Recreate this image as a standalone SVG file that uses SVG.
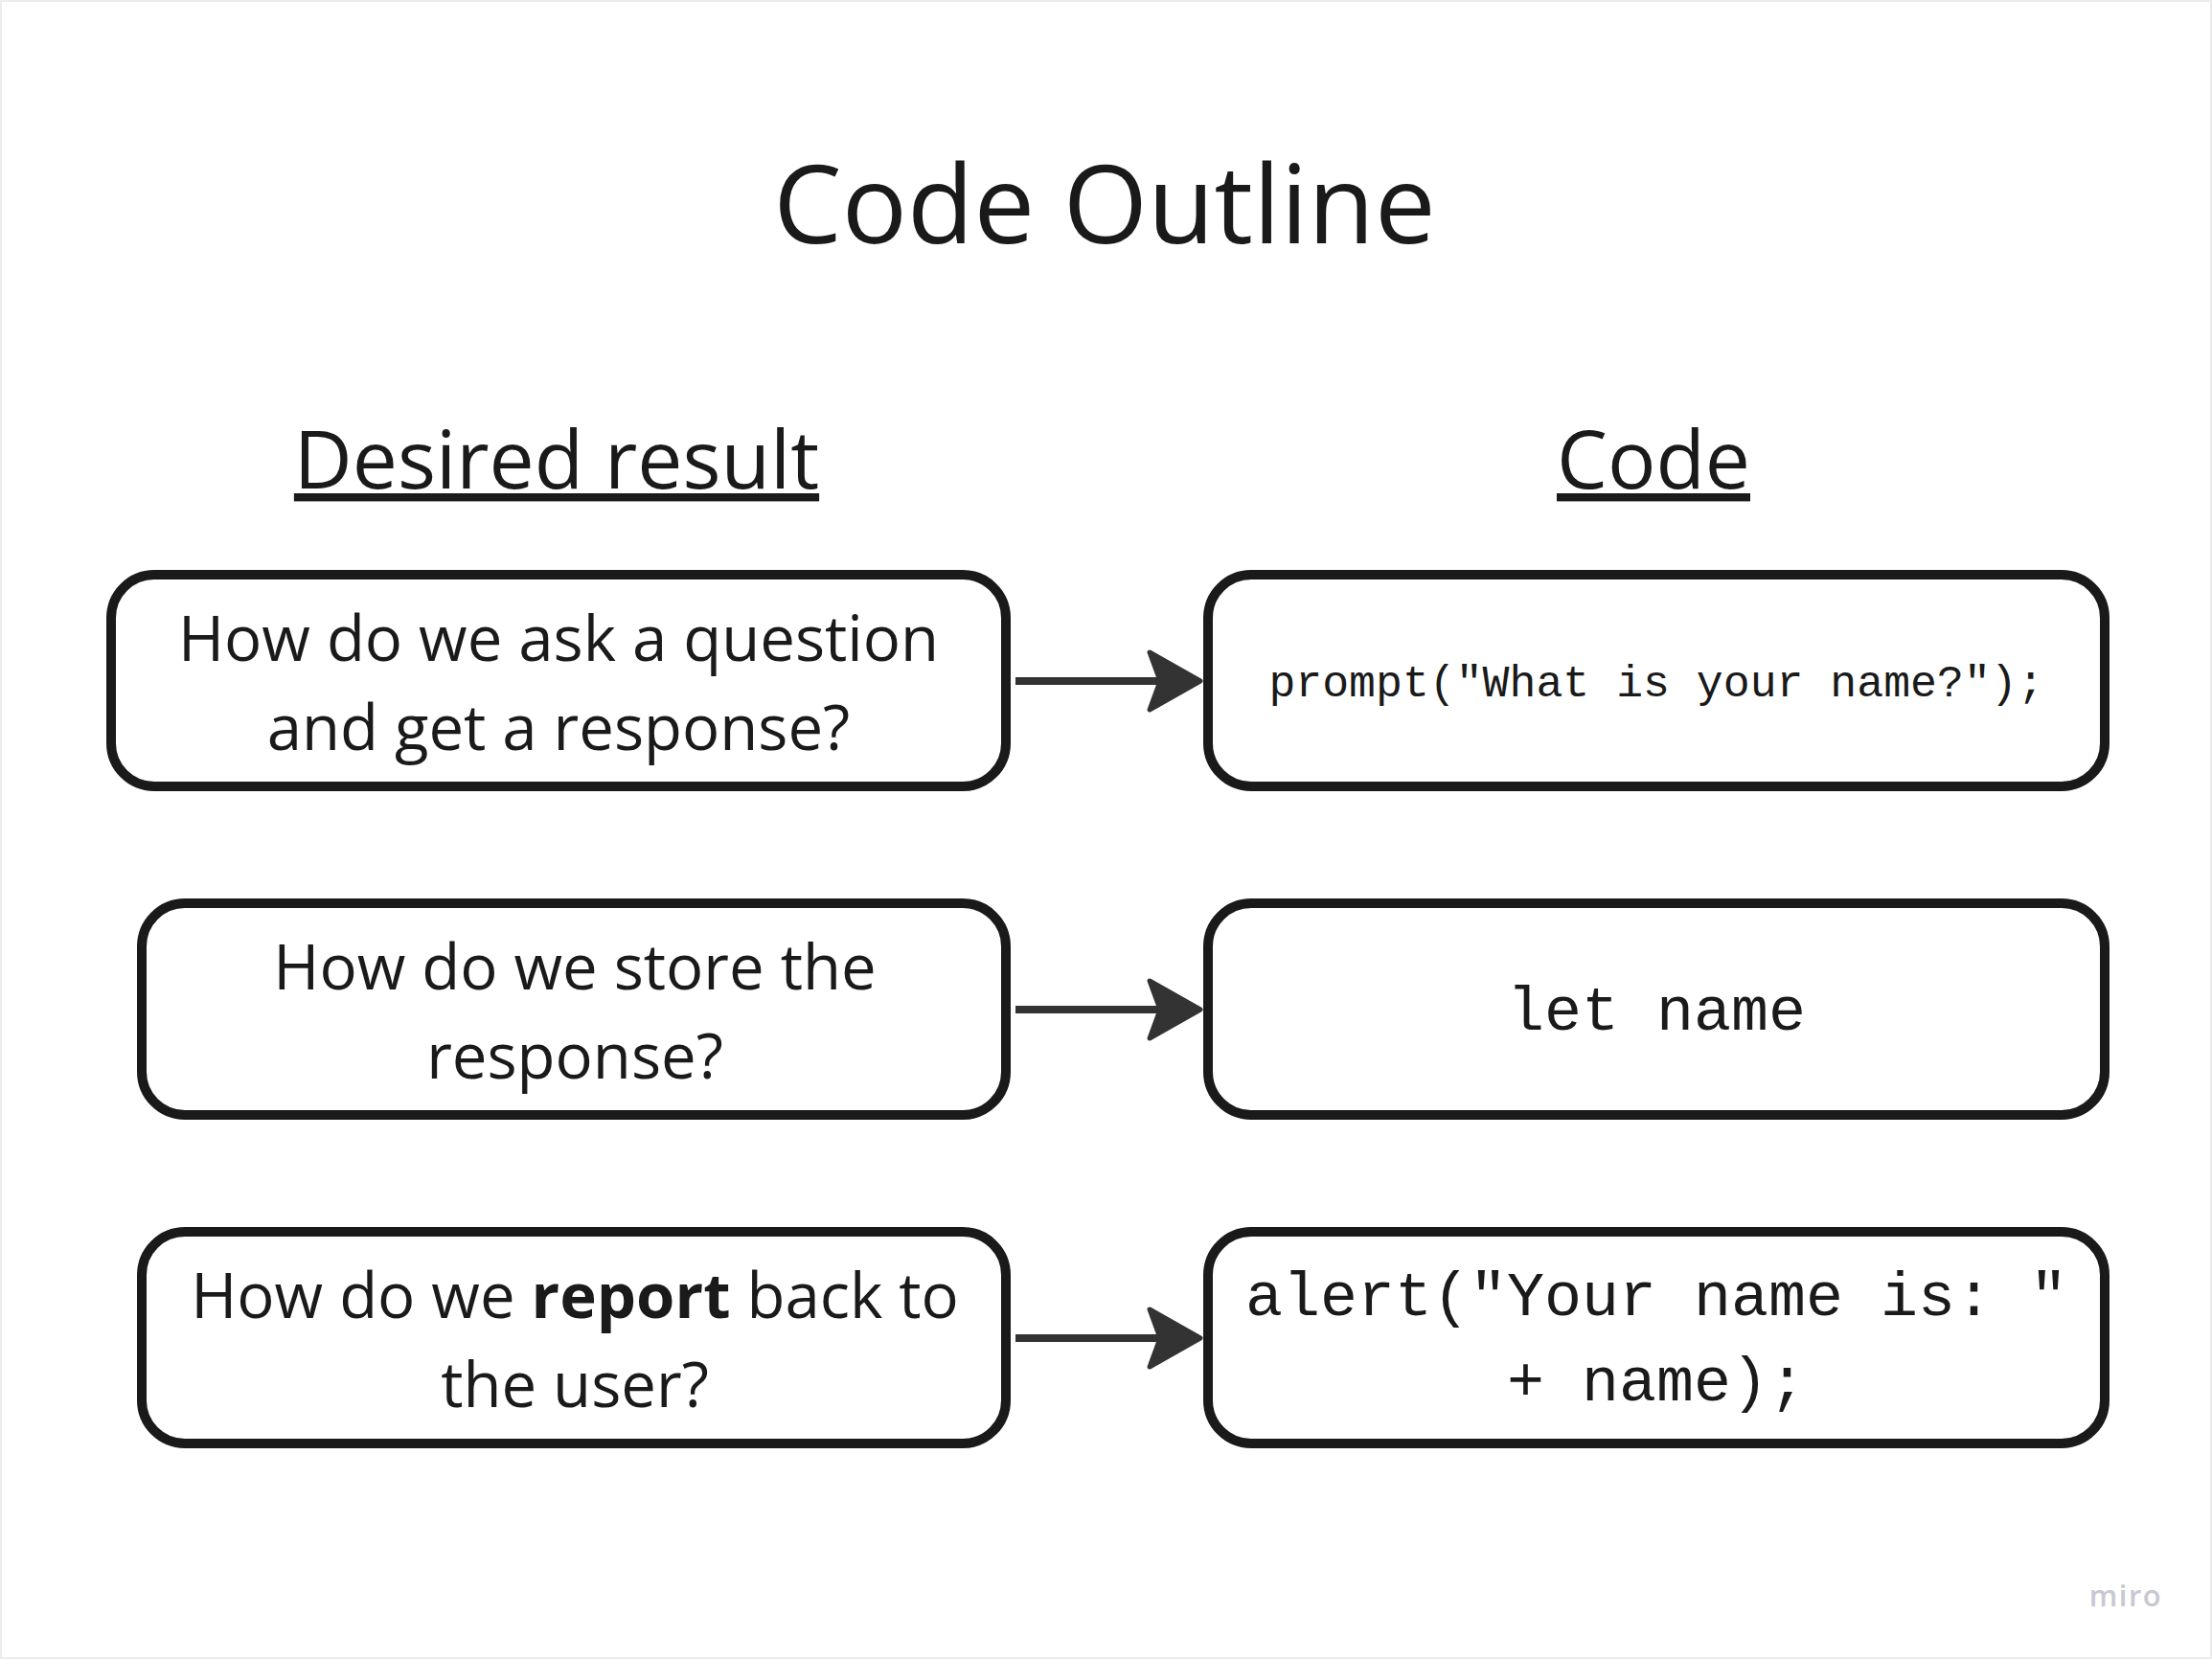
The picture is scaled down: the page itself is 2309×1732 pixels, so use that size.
<svg xmlns="http://www.w3.org/2000/svg" width="2309" height="1732" viewBox="0 0 2309 1732">
<style>
.bg{fill:#ffffff;stroke:#ececec;stroke-width:4}
.box{fill:#ffffff;stroke:#1a1a1a;stroke-width:10}
.t{font-family:"Open Sans","Noto Sans","Liberation Sans",sans-serif;fill:#1a1a1a;text-anchor:middle}
.q{font-size:65.3px}
.h{font-size:84px;text-decoration:underline}
.code{font-family:"Liberation Mono","DejaVu Sans Mono",monospace;fill:#1a1a1a;text-anchor:middle}
.conn{fill:none;stroke:#333333;stroke-width:8}
.head{fill:#333333;stroke:#333333;stroke-width:5;stroke-linejoin:round}
</style>
<defs>
<marker id="ah" markerUnits="userSpaceOnUse" markerWidth="80" markerHeight="80" refX="32" refY="33" orient="auto" overflow="visible">
<path class="head" d="M2,3 L55,33 L2,63 L13,33 Z"/>
</marker>
</defs>
<rect class="bg" x="0" y="0" width="2309" height="1732"/>
<g id="title">
<text class="t" x="1153" y="254" font-size="113.5">Code Outline</text>
</g>
<g id="header-desired">
<text class="t h" x="581" y="510">Desired result</text>
</g>
<g id="header-code">
<text class="t h" x="1726" y="510">Code</text>
</g>
<g id="q1">
<rect class="box" x="116" y="600" width="934" height="221" rx="45"/>
<text class="t q" x="583" y="690">How do we ask a question</text>
<text class="t q" x="583" y="783">and get a response?</text>
</g>
<g id="q2">
<rect class="box" x="148" y="943" width="902" height="221" rx="45"/>
<text class="t q" x="600" y="1033">How do we store the</text>
<text class="t q" x="600" y="1126">response?</text>
</g>
<g id="q3">
<rect class="box" x="148" y="1286" width="902" height="221" rx="45"/>
<text class="t q" x="600" y="1376">How do we <tspan font-weight="bold">report</tspan> back to</text>
<text class="t q" x="600" y="1469">the user?</text>
</g>
<g id="c1">
<rect class="box" x="1261" y="600" width="936" height="221" rx="45"/>
<text class="code" x="1729" y="727" font-size="46.5">prompt("What is your name?");</text>
</g>
<g id="c2">
<rect class="box" x="1261" y="943" width="936" height="221" rx="45"/>
<text class="code" x="1729" y="1075" font-size="65">let name</text>
</g>
<g id="c3">
<rect class="box" x="1261" y="1286" width="936" height="221" rx="45"/>
<text class="code" x="1729" y="1373" font-size="65">alert("Your name is: "</text>
<text class="code" x="1729" y="1462" font-size="65">+ name);</text>
</g>
<g id="connectors">
<path class="conn" d="M1060 711 H1230" marker-end="url(#ah)"/>
<path class="conn" d="M1060 1054 H1230" marker-end="url(#ah)"/>
<path class="conn" d="M1060 1397 H1230" marker-end="url(#ah)"/>
</g>
<g id="watermark">
<text x="2219" y="1677" font-family="Open Sans, Noto Sans, sans-serif" font-size="31" font-weight="600" fill="#c8c8d2" text-anchor="middle" letter-spacing="1.5">miro</text>
</g>
</svg>
